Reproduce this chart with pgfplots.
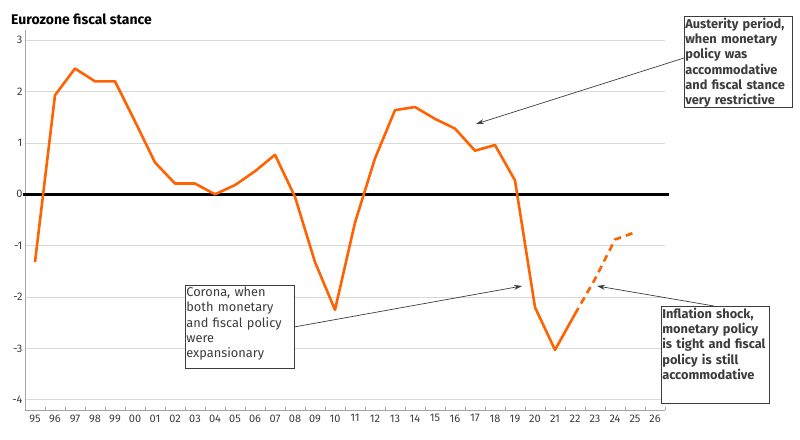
\documentclass[border=0pt]{standalone}
\usepackage{fontspec}
\setmainfont{Fira Sans}
\usepackage{pgfplots}
\usepackage{pgfplotstable}
\pgfplotsset{compat=1.18}
\usetikzlibrary{calc,arrows.meta}

\definecolor{ingorange}{HTML}{FF6200}
\definecolor{gridgrey}{HTML}{D9D9D9}
\definecolor{axisgrey}{HTML}{A6A6A6}
\definecolor{txtgrey}{HTML}{3C3C3C}

% x = years since 1995 (0 = 95, 31 = 26)
\pgfplotstableread{
yr val
0 -1.32
1 1.93
2 2.45
3 2.20
4 2.20
5 1.42
6 0.62
7 0.21
8 0.21
9 0.00
10 0.18
11 0.45
12 0.77
13 -0.05
14 -1.32
15 -2.25
16 -0.55
17 0.70
18 1.64
19 1.70
20 1.47
21 1.28
22 0.85
23 0.96
24 0.27
25 -2.20
26 -3.03
27 -2.33
}\stance

\pgfplotstableread{
yr val
27 -2.33
28 -1.65
29 -0.88
30 -0.74
}\forecast

\begin{document}
\begin{tikzpicture}
\begin{axis}[
  scale only axis,
  width=640pt, height=380pt,
  xmin=-0.5, xmax=31.5,
  ymin=-4.2, ymax=3.2,
  axis x line*=bottom, axis y line*=left,
  axis line style={axisgrey, line width=0.8pt, -},
  xtick={0,...,31},
  xticklabels={95,96,97,98,99,00,01,02,03,04,05,06,07,08,09,10,11,12,13,14,15,16,17,18,19,20,21,22,23,24,25,26},
  major x tick style={draw=none},
  minor xtick={-0.5,0.5,...,31.5},
  minor x tick style={axisgrey, line width=0.8pt},
  minor tick length=3pt,
  tick align=inside,
  ytick={-4,-3,...,3},
  major y tick style={draw=none},
  ymajorgrids,
  grid style={gridgrey, line width=0.9pt},
  tick label style={font=\fontsize{11}{12}\selectfont, text=txtgrey},
  xticklabel style={yshift=-1pt},
  yticklabel style={xshift=1pt},
  /pgf/number format/assume math mode=true,
  clip=false,
]
\addplot[black, line width=2.6pt, forget plot] coordinates {(-0.6,0) (31.7,0)};
\addplot[ingorange, line width=2.6pt, line join=round] table[x=yr, y=val] {\stance};
\addplot[ingorange, line width=2.6pt, dash pattern=on 7pt off 5pt] table[x=yr, y=val] {\forecast};
\end{axis}

\begin{scope}[shift={($(current axis.south west)+(-25pt,410pt)$)}, x=1pt, y=-1pt]
  \pgfresetboundingbox
  \path (0,0) rectangle (800,439);
  \node[anchor=base west, inner sep=0, text=black] at (11,25)
    {\fontsize{14}{16}\selectfont\bfseries Eurozone fiscal stance};

  \begin{scope}[txtgrey, line width=0.7pt]
    % Austerity
    \draw[-{Stealth[length=8pt,width=5pt]}] (684,58) -- (476,124);
    \draw[fill=white] (684,16) rectangle (792,107);
    \node[anchor=north west, inner xsep=1pt, inner ysep=1.5pt, text width=110pt, align=left,
      font=\fontsize{12.8}{15.3}\selectfont\bfseries] at (684,16)
      {Austerity period,\\when monetary\\policy was\\accommodative\\and fiscal stance\\very restrictive};
    % Corona
    \draw[-{Stealth[length=8pt,width=5pt]}] (294,327) -- (522,286);
    \draw[fill=white] (185,285) rectangle (294,368);
    \node[anchor=north west, inner xsep=1pt, inner ysep=1.5pt, text width=110pt, align=left,
      font=\fontsize{12.8}{15.3}\selectfont] at (185,285)
      {Corona, when\\both monetary\\and fiscal policy\\were\\expansionary};
    % Inflation
    \draw[-{Stealth[length=8pt,width=5pt]}] (714,306) -- (597,286);
    \draw[fill=white] (661,306) rectangle (769,403);
    \node[anchor=north west, inner xsep=1pt, inner ysep=1.5pt, text width=110pt, align=left,
      font=\fontsize{12.8}{15.3}\selectfont\bfseries] at (661,306)
      {Inflation shock,\\monetary policy\\is tight and fiscal\\policy is still\\accommodative};
  \end{scope}
\end{scope}
\end{tikzpicture}
\end{document}
